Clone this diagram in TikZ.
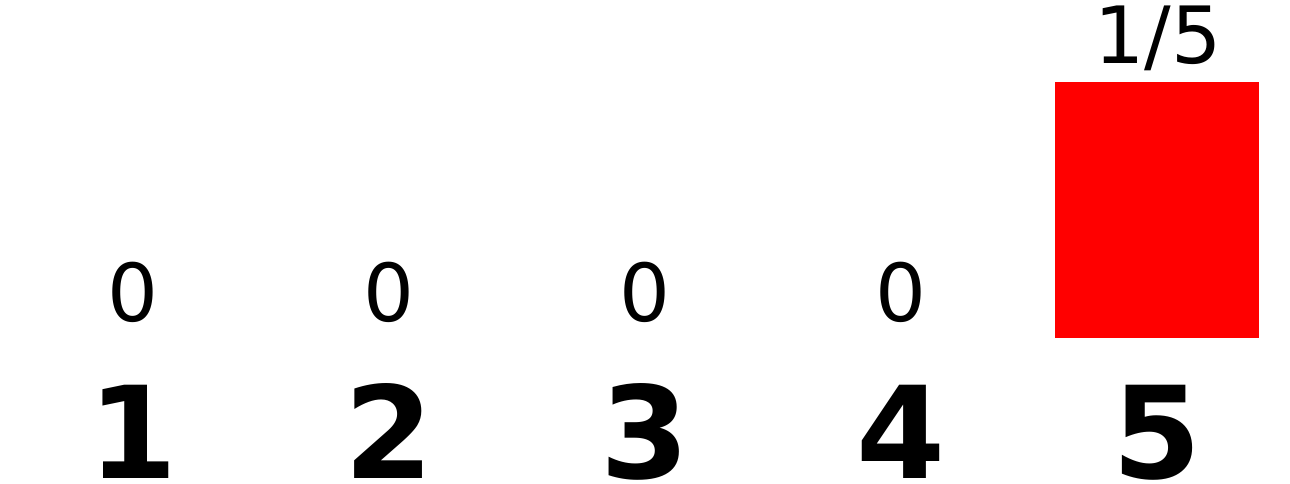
\documentclass[tikz,border=0pt]{standalone}
\usepackage{fontspec}
\setmainfont{DejaVu Sans}
\begin{document}
\begin{tikzpicture}[x=1pt,y=1pt,
  vallabel/.style={anchor=base,inner sep=0pt,text depth=0pt,font=\fontsize{80}{96}\selectfont},
  catlabel/.style={anchor=base,inner sep=0pt,text depth=0pt,font=\fontsize{128}{150}\selectfont\bfseries},
  barbox/.style={fill=red,draw=none,inner sep=0pt,anchor=south west}]
\useasboundingbox (0,0) rectangle (1290,484);
\node[barbox,minimum width=204pt,minimum height=256pt] (bar5) at (1055,146) {};
\node[vallabel] (v1) at (133,162) {0};
\node[vallabel] (v2) at (389,162) {0};
\node[vallabel] (v3) at (645,162) {0};
\node[vallabel] (v4) at (901,162) {0};
\node[vallabel,font=\fontsize{79}{92}\selectfont] (v5) at (1158,420) {1/5};
\node[catlabel] (c1) at (133,5) {1};
\node[catlabel] (c2) at (389,5) {2};
\node[catlabel] (c3) at (645,5) {3};
\node[catlabel] (c4) at (901,5) {4};
\node[catlabel] (c5) at (1157,5) {5};
\end{tikzpicture}
\end{document}
